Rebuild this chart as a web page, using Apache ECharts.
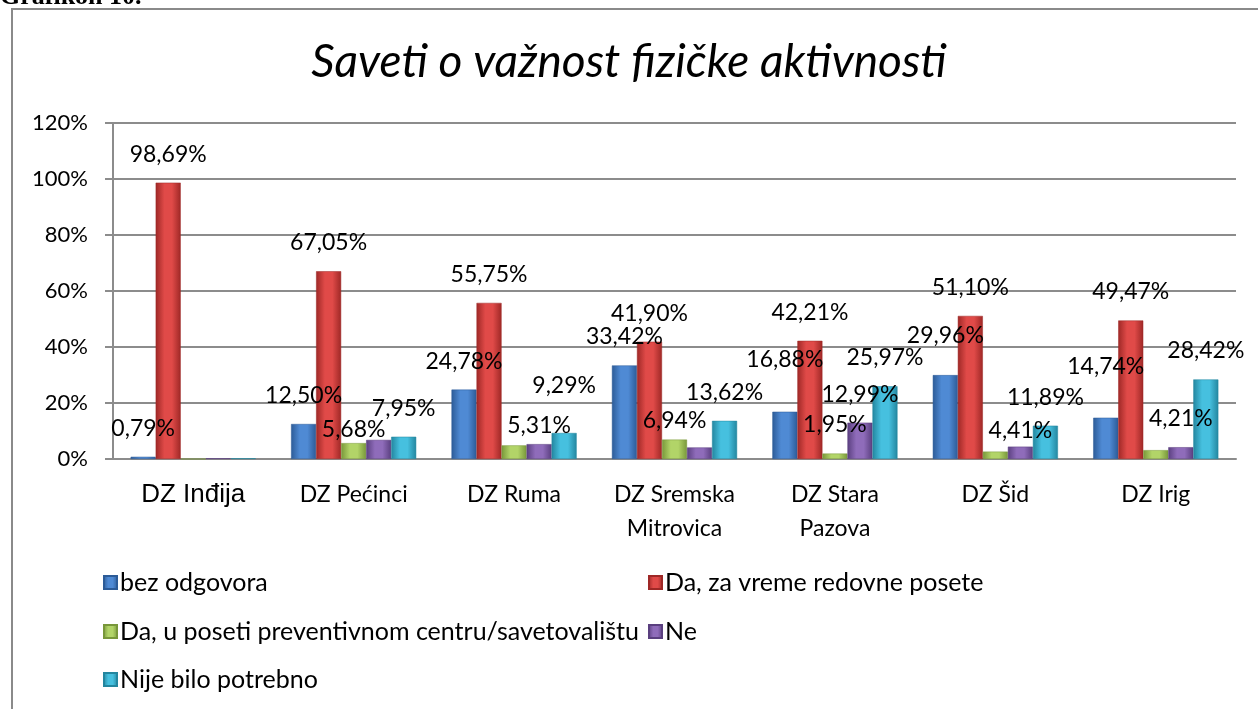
<!DOCTYPE html>
<html>
<head>
<meta charset="utf-8">
<title>Saveti o važnost fizičke aktivnosti</title>
<script src="https://cdn.jsdelivr.net/npm/echarts@6/dist/echarts.min.js"></script>
<style>
  html, body { margin: 0; padding: 0; background: #fff; }
  #main { width: 1258px; height: 709px; }
</style>
</head>
<body>
<div id="main"></div>
<script>
// categories (health centres)
const categories = ['DZ Inđija', 'DZ Pećinci', 'DZ Ruma', 'DZ Sremska\nMitrovica', 'DZ Stara\nPazova', 'DZ Šid', 'DZ Irig'];

// answer shares in %
const bezOdgovora = [0.79, 12.50, 24.78, 33.42, 16.88, 29.96, 14.74];
const daRedovne = [98.69, 67.05, 55.75, 41.90, 42.21, 51.10, 49.47];
const daPreventivni = [0, 5.68, 4.87, 6.94, 1.95, 2.64, 3.16];
const ne = [0.26, 6.82, 5.31, 4.12, 12.99, 4.41, 4.21];
const nijePotrebno = [0.26, 7.95, 9.29, 13.62, 25.97, 11.89, 28.42];

const yTicks = [0, 20, 40, 60, 80, 100, 120];

const seriesNames = [
  'bez odgovora',
  'Da, za vreme redovne posete',
  'Da, u poseti preventivnom centru/savetovalištu',
  'Ne',
  'Nije bilo potrebno'
];
const seriesData = [bezOdgovora, daRedovne, daPreventivni, ne, nijePotrebno];

// labels that were not shown on the original chart  (series-category)
const hiddenLabels = ['2-0', '2-2', '2-5', '2-6', '3-0', '3-1', '3-3', '4-0'];
// labels that were dragged around in the original
const labelDist = { '2-1': 2, '3-2': 7, '2-3': 7, '3-5': 5, '4-2': 36, '0-4': 41, '0-5': 28, '0-6': 40 };

const colors = [
  ['#2c5b97', '#4f8ad4', '#2c5b97'],
  ['#9e2826', '#e04a48', '#9e2826'],
  ['#78973a', '#b2d468', '#78973a'],
  ['#5a3f7f', '#8f6cba', '#5a3f7f'],
  ['#23869f', '#46c0df', '#23869f']
];

const font = 'Lato';

function pct(v) {
  return v.toFixed(2).replace('.', ',') + '%';
}

function grad(c) {
  return new echarts.graphic.LinearGradient(0, 0, 1, 0, [
    { offset: 0, color: c[0] },
    { offset: 0.35, color: c[1] },
    { offset: 0.65, color: c[1] },
    { offset: 1, color: c[2] }
  ]);
}

const series = seriesData.map((arr, si) => ({
  name: seriesNames[si],
  type: 'bar',
  barGap: '0%',
  barCategoryGap: '22%',
  itemStyle: { color: grad(colors[si]), borderColor: colors[si][0], borderWidth: 0.5 },
  data: arr.map((v, ci) => {
    const key = si + '-' + ci;
    return {
      value: v,
      label: {
        show: hiddenLabels.indexOf(key) < 0,
        distance: labelDist[key] !== undefined ? labelDist[key] : 17
      }
    };
  }),
  label: {
    position: 'top',
    fontFamily: font,
    fontSize: 23,
    color: '#000',
    formatter: p => pct(p.value)
  }
}));

const legendRows = [
  [0, 103, 570], [1, 648, 570],
  [2, 103, 619], [3, 648, 619],
  [4, 103, 667]
];

const chart = echarts.init(document.getElementById('main'));
chart.setOption({
  animation: false,
  color: colors.map(c => c[1]),
  title: {
    text: 'Saveti o važnost fizičke aktivnosti',
    left: 'center',
    top: 34,
    textStyle: { fontFamily: font, fontStyle: 'italic', fontWeight: 'normal', fontSize: 46, color: '#000' }
  },
  legend: legendRows.map(r => ({
    data: [{ name: seriesNames[r[0]], itemStyle: { color: grad(colors[r[0]]) } }],
    left: r[1],
    top: r[2],
    itemWidth: 13,
    itemHeight: 13,
    itemGap: 0,
    icon: 'rect',
    padding: 0,
    selectedMode: false,
    textStyle: { fontFamily: font, fontSize: 25, color: '#000', padding: [0, 0, 0, -2] }
  })),
  grid: { left: 113, right: 22, top: 123, bottom: 250 },
  xAxis: {
    type: 'category',
    data: categories,
    axisLine: { lineStyle: { color: '#8c8c8c', width: 2 } },
    axisTick: { length: 8, lineStyle: { color: '#8c8c8c', width: 2 } },
    axisLabel: {
      fontFamily: font,
      fontSize: 23,
      color: '#000',
      margin: 19,
      lineHeight: 34,
      interval: 0,
      formatter: v => v === categories[0] ? '{big|' + v + '}' : v,
      rich: { big: { fontFamily: 'Liberation Sans', fontSize: 26, color: '#000' } }
    }
  },
  yAxis: {
    type: 'value',
    min: 0,
    max: 120,
    interval: 20,
    axisLine: { show: true, lineStyle: { color: '#8c8c8c', width: 2 } },
    axisTick: { show: true, length: 8, lineStyle: { color: '#8c8c8c', width: 2 } },
    axisLabel: {
      fontFamily: font,
      fontSize: 22,
      color: '#000',
      margin: 25,
      formatter: v => yTicks.indexOf(v) >= 0 ? v + '%' : ''
    },
    splitLine: { lineStyle: { color: '#8c8c8c', width: 2 } }
  },
  graphic: [
    {
      type: 'rect',
      shape: { x: 12, y: 9, width: 1400, height: 900 },
      style: { fill: null, stroke: '#8a8a8a', lineWidth: 2 },
      silent: true
    },
    {
      type: 'text',
      left: 0,
      top: -16,
      style: { text: 'Grafikon 10.', font: 'bold 26px "Liberation Serif"', fill: '#000' },
      silent: true
    }
  ],
  series: series
});
</script>
</body>
</html>
